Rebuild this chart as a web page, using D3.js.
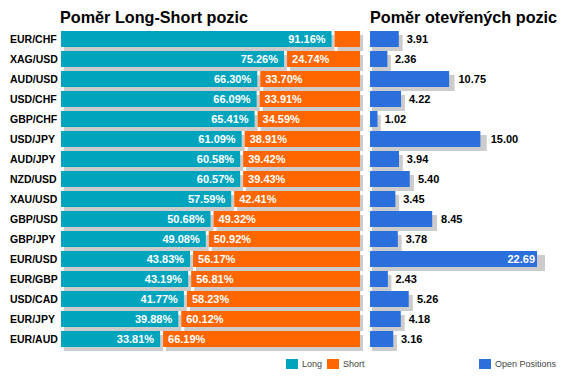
<!DOCTYPE html>
<html>
<head>
<meta charset="utf-8">
<script src="https://cdn.jsdelivr.net/npm/d3@7"></script>
<style>
  body { margin: 0; background: #fff; }
  svg { display: block; font-family: "Liberation Sans", Arial, sans-serif; }
</style>
</head>
<body>
<div id="chart"></div>
<script>
var pairs = ["EUR/CHF", "XAG/USD", "AUD/USD", "USD/CHF", "GBP/CHF", "USD/JPY", "AUD/JPY", "NZD/USD",
             "XAU/USD", "GBP/USD", "GBP/JPY", "EUR/USD", "EUR/GBP", "USD/CAD", "EUR/JPY", "EUR/AUD"];
var longPct  = [91.16, 75.26, 66.30, 66.09, 65.41, 61.09, 60.58, 60.57, 57.59, 50.68, 49.08, 43.83, 43.19, 41.77, 39.88, 33.81];
var shortPct = [8.84, 24.74, 33.70, 33.91, 34.59, 38.91, 39.42, 39.43, 42.41, 49.32, 50.92, 56.17, 56.81, 58.23, 60.12, 66.19];
var openPos  = [3.91, 2.36, 10.75, 4.22, 1.02, 15.00, 3.94, 5.40, 3.45, 8.45, 3.78, 22.69, 2.43, 5.26, 4.18, 3.16];

var COL_LONG = "#00a4bd", COL_SHORT = "#ff6600", COL_OPEN = "#2a6fdb", COL_SHADOW = "#cccccc";

var svg = d3.select("#chart").append("svg")
    .attr("width", 567)
    .attr("height", 381);

var y = d3.scaleBand().domain(pairs).range([29, 349]).paddingInner(0.2).paddingOuter(0.1);
var xL = d3.scaleLinear().domain([0, 100]).range([61, 360]);
var xR = d3.scaleLinear().domain([0, 22.69]).range([370, 537]);

var rows = pairs.map(function (p, i) {
    return { pair: p, lng: longPct[i], shrt: shortPct[i], open: openPos[i] };
});

// titles
svg.append("text").attr("x", 60).attr("y", 23)
    .attr("font-size", 16.2).attr("font-weight", "bold").attr("fill", "#000")
    .text("Poměr Long-Short pozic");
svg.append("text").attr("x", 370).attr("y", 23)
    .attr("font-size", 16.2).attr("font-weight", "bold").attr("fill", "#000")
    .text("Poměr otevřených pozic");

// category labels
svg.append("g").selectAll("text").data(rows).enter().append("text")
    .attr("x", 10)
    .attr("y", function (d) { return y(d.pair) + y.bandwidth() / 2; })
    .attr("dy", "0.35em")
    .attr("font-size", 10.5).attr("font-weight", "bold")
    .text(function (d) { return d.pair; });

var left = svg.append("g");
var row = left.selectAll("g").data(rows).enter().append("g");

// long segment
row.append("rect").attr("fill", COL_SHADOW)
    .attr("x", xL(0) + 3)
    .attr("y", function (d) { return y(d.pair) + 4; })
    .attr("width", function (d) { return xL(d.lng) - xL(0) - 2; })
    .attr("height", y.bandwidth());
row.append("rect").attr("fill", COL_LONG)
    .attr("x", xL(0))
    .attr("y", function (d) { return y(d.pair); })
    .attr("width", function (d) { return xL(d.lng) - xL(0) - 2; })
    .attr("height", y.bandwidth());
// short segment
row.append("rect").attr("fill", COL_SHADOW)
    .attr("x", function (d) { return xL(d.lng) + 1 + 3; })
    .attr("y", function (d) { return y(d.pair) + 4; })
    .attr("width", function (d) { return xL(100) - xL(d.lng) - 1; })
    .attr("height", y.bandwidth());
row.append("rect").attr("fill", COL_SHORT)
    .attr("x", function (d) { return xL(d.lng) + 1; })
    .attr("y", function (d) { return y(d.pair); })
    .attr("width", function (d) { return xL(100) - xL(d.lng) - 1; })
    .attr("height", y.bandwidth());

row.append("text")
    .attr("x", function (d) { return xL(d.lng) - 8; })
    .attr("y", function (d) { return y(d.pair) + y.bandwidth() / 2; })
    .attr("dy", "0.36em").attr("text-anchor", "end")
    .attr("font-size", 11).attr("font-weight", "bold").attr("fill", "#fff")
    .text(function (d) { return d.lng.toFixed(2) + "%"; });
row.filter(function (d) { return d.shrt > 15; }).append("text")
    .attr("x", function (d) { return xL(d.lng) + 6; })
    .attr("y", function (d) { return y(d.pair) + y.bandwidth() / 2; })
    .attr("dy", "0.36em")
    .attr("font-size", 11).attr("font-weight", "bold").attr("fill", "#fff")
    .text(function (d) { return d.shrt.toFixed(2) + "%"; });

// open positions
var maxOpen = d3.max(openPos);
var right = svg.append("g").selectAll("g").data(rows).enter().append("g");
right.append("rect").attr("fill", COL_SHADOW)
    .attr("x", xR(0) + 2)
    .attr("y", function (d) { return y(d.pair) + 4; })
    .attr("width", function (d) { return (xR(d.open) - xR(0)) * 1.03 + 1; })
    .attr("height", y.bandwidth());
right.append("rect").attr("fill", COL_OPEN)
    .attr("x", xR(0))
    .attr("y", function (d) { return y(d.pair); })
    .attr("width", function (d) { return xR(d.open) - xR(0); })
    .attr("height", y.bandwidth());
right.append("text")
    .attr("x", function (d) {
        var w = xR(d.open) - xR(0);
        return d.open === maxOpen ? xR(d.open) - 2 : xR(0) + w * 1.03 + 7;
    })
    .attr("y", function (d) { return y(d.pair) + y.bandwidth() / 2; })
    .attr("dy", "0.36em")
    .attr("text-anchor", function (d) { return d.open === maxOpen ? "end" : "start"; })
    .attr("font-size", 11).attr("font-weight", "bold")
    .attr("fill", function (d) { return d.open === maxOpen ? "#fff" : "#000"; })
    .text(function (d) { return d.open.toFixed(2); });

// legends
var legendItems = [
    { label: "Long", color: COL_LONG, x: 286 },
    { label: "Short", color: COL_SHORT, x: 327 },
    { label: "Open Positions", color: COL_OPEN, x: 479 }
];
var lg = svg.append("g").selectAll("g").data(legendItems).enter().append("g")
    .attr("transform", function (d) { return "translate(" + d.x + ",359)"; });
lg.append("rect").attr("width", 12).attr("height", 10).attr("fill", function (d) { return d.color; });
lg.append("text").attr("x", 16).attr("y", 5).attr("dy", "0.35em")
    .attr("font-size", 9).attr("fill", "#444")
    .text(function (d) { return d.label; });
</script>
</body>
</html>
